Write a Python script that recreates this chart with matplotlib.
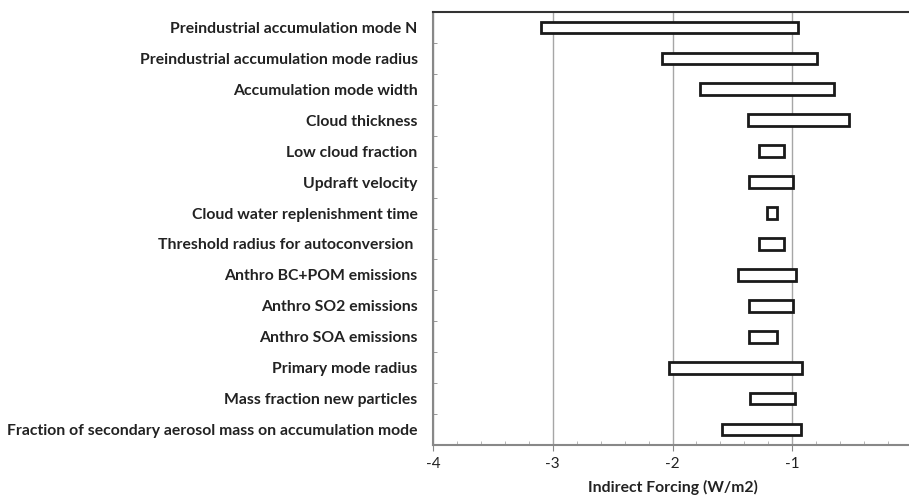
import numpy as np
from matplotlib import pyplot as plt
from matplotlib.ticker import MultipleLocator, FixedLocator


# <-- DATA -->
parameters = [
    'Preindustrial accumulation mode N',
    'Preindustrial accumulation mode radius',
    'Accumulation mode width',
    'Cloud thickness',
    'Low cloud fraction',
    'Updraft velocity',
    'Cloud water replenishment time',
    'Threshold radius for autoconversion ',
    'Anthro BC+POM emissions',
    'Anthro SO2 emissions',
    'Anthro SOA emissions',
    'Primary mode radius',
    'Mass fraction new particles',
    'Fraction of secondary aerosol mass on accumulation mode',
]

# low / high end of the indirect forcing range (W/m2)
forcing_low = [-3.10, -2.09, -1.77, -1.37, -1.28, -1.36, -1.21,
               -1.28, -1.45, -1.36, -1.36, -2.03, -1.35, -1.59]
forcing_high = [-0.95, -0.79, -0.65, -0.53, -1.07, -0.99, -1.13,
                -1.07, -0.97, -0.99, -1.13, -0.92, -0.98, -0.93]

x_ticks = [-4, -3, -2, -1]


if __name__ == '__main__':
    plt.rcParams['font.family'] = ['Lato', 'DejaVu Sans']
    plt.rcParams['axes.unicode_minus'] = False

    fig = plt.figure(figsize=(9.09, 4.96), dpi=100)
    # axes run from x=-4 to 0; the right edge sits just past the image
    ax = fig.add_axes([433 / 909, 1 - 445 / 496, (912 - 433) / 909, (445 - 12) / 496])

    n = len(parameters)
    y_pos = np.arange(n)
    widths = np.array(forcing_high) - np.array(forcing_low)

    ax.barh(y_pos, widths, left=forcing_low, height=0.38,
            color='white', edgecolor='#1a1a1a', linewidth=2.0, zorder=3)

    ax.set_xlim(-4, 0)
    ax.set_ylim(n - 0.5, -0.5)

    # category labels
    ax.set_yticks(y_pos)
    ax.set_yticklabels(parameters, fontsize=11.3, fontweight='bold', color='#222222')
    ax.tick_params(axis='y', which='major', length=0, pad=11)
    ax.yaxis.set_minor_locator(FixedLocator(np.arange(0.5, n - 0.5, 1.0)))
    ax.tick_params(axis='y', which='minor', direction='in', length=3, color='#888888')

    # x axis
    ax.xaxis.set_major_locator(FixedLocator(x_ticks))
    ax.xaxis.set_minor_locator(MultipleLocator(0.2))
    ax.tick_params(axis='x', which='major', direction='out', length=4,
                   color='#888888', labelsize=11, pad=5, labelcolor='#222222')
    ax.tick_params(axis='x', which='minor', direction='in', length=3, color='#aaaaaa')
    ax.set_xlabel('Indirect Forcing (W/m2)', fontsize=11.3, fontweight='bold',
                  color='#222222', labelpad=6)

    ax.grid(axis='x', which='major', color='#a6a6a6', linewidth=1.0, zorder=0)
    ax.set_axisbelow(True)

    ax.spines['left'].set_color('#888888')
    ax.spines['left'].set_linewidth(1.5)
    ax.spines['bottom'].set_color('#888888')
    ax.spines['bottom'].set_linewidth(1.5)
    ax.spines['top'].set_color('#333333')
    ax.spines['top'].set_linewidth(1.5)
    ax.spines['right'].set_visible(False)

    fig.savefig('out.png', dpi=100)
